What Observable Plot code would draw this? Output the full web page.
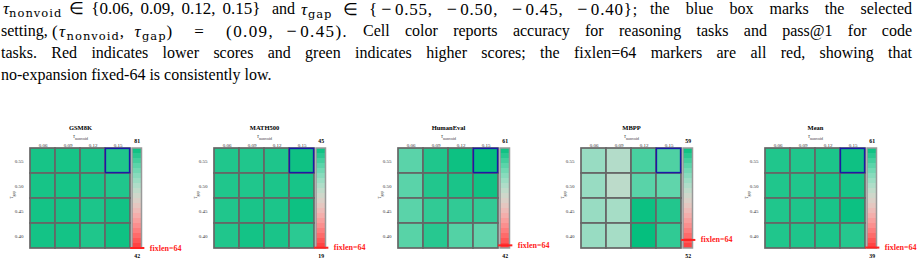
<!DOCTYPE html>
<html>
<head>
<meta charset="utf-8">
<script src="https://cdn.jsdelivr.net/npm/d3@7"></script>
<script src="https://cdn.jsdelivr.net/npm/@observablehq/plot@0.6"></script>
<style>
  html, body { margin: 0; padding: 0; background: #fff; }
  #page { position: relative; width: 922px; height: 264px; overflow: hidden; }
  #cap { position: absolute; left: 0; top: -2px; width: 922px;
         font-family: "Liberation Serif", "Times New Roman", serif; font-size: 16px; line-height: 22px; color: #000; }
  #cap .row { position: relative; height: 22px; }
  #cap .seg { position: absolute; top: 0; white-space: nowrap; }
  #cap .jus { text-align: justify; text-align-last: justify; }
  #cap .flex { display: flex; justify-content: space-between; align-items: baseline; }
  #cap .l { position: absolute; left: 1px; width: 911px; text-align: justify; text-align-last: justify; white-space: nowrap; }
  #cap .last { text-align: left; text-align-last: left; }
  #cap .m { font-size: 17px; white-space: nowrap; }
  #cap .ls { letter-spacing: 0.8px; }
  #cap .ls2 { letter-spacing: 1.4px; }
  #cap sub { font-family: "DejaVu Serif", serif; font-size: 11.5px; letter-spacing: 1px; line-height: 0; vertical-align: -3px; }
  #cap .r { padding: 0 7px; }
  #cap .t { display: inline-block; width: 7px; }
  #cap .t9 { display: inline-block; width: 9px; }
  #cap .n { display: inline-block; width: 17px; text-align: center; font-size: 18px; letter-spacing: 0; }
  .panel { position: absolute; }
  .panel svg { overflow: visible; max-width: none !important; }
</style>
</head>
<body>
<div id="page">
  <div id="cap">
    <div class="row">
      <span class="seg m" style="left:3px"><i>τ</i><sub>nonvoid</sub><span class="r">∈</span>{0.06,<span class="t"></span>0.09,<span class="t"></span>0.12,<span class="t"></span>0.15}</span>
      <span class="seg" style="left:272px">and</span>
      <span class="seg m ls flex" style="left:301px;width:337px"><span><i>τ</i><sub>gap</sub></span><span>∈</span><span>{<span class="n">−</span>0.55,</span><span><span class="n">−</span>0.50,</span><span><span class="n">−</span>0.45,</span><span><span class="n">−</span>0.40}<span style="font-size:16px">;</span></span></span>
      <span class="seg jus" style="left:650px;width:262px">the blue box marks the selected</span>
    </div>
    <div class="row">
      <span class="seg" style="left:1px">setting,</span>
      <span class="seg m ls2 flex" style="left:52px;width:296px"><span>(<i>τ</i><sub>nonvoid</sub>,<span class="t9"></span><i>τ</i><sub>gap</sub>)</span><span>=</span><span>(0.09,<span class="t9"></span><span class="n">−</span>0.45)<span style="font-size:16px">.</span></span></span>
      <span class="seg jus" style="left:363px;width:549px">Cell color reports accuracy for reasoning tasks and pass@1 for code</span>
    </div>
    <div class="row"><div class="l">tasks. Red indicates lower scores and green indicates higher scores; the fixlen=64 markers are all red, showing that</div></div>
    <div class="row"><div class="l last">no-expansion fixed-64 is consistently low.</div></div>
  </div>
</div>
<script>
// ---------------- data ----------------
const tasks = ["GSM8K", "MATH500", "HumanEval", "MBPP", "Mean"];
const tauNonvoid = ["0.06", "0.09", "0.12", "0.15"];
const tauGap = ["0.55", "0.50", "0.45", "0.40"];          // top to bottom
const selectedCell = {col: "0.15", row: "0.55"};
const fixlenLabel = "fixlen=64";

// rows top->bottom (tauGap order), columns tauNonvoid order
const gsm8k = [
  [79.6, 79.6, 79.4, 79.0],
  [79.6, 79.6, 79.4, 78.9],
  [79.8, 79.7, 79.2, 80.0],
  [79.8, 79.8, 79.0, 80.2]
];
const math500 = [
  [43.6, 43.6, 43.7, 44.5],
  [43.6, 43.6, 43.8, 44.0],
  [43.6, 43.9, 43.8, 44.6],
  [43.6, 44.2, 43.9, 43.0]
];
const humaneval = [
  [57.7, 60.0, 60.7, 61.0],
  [57.7, 59.9, 60.2, 60.6],
  [57.7, 59.3, 59.3, 59.3],
  [57.8, 59.7, 58.0, 57.5]
];
const mbpp = [
  [56.8, 56.3, 58.05, 57.95],
  [56.8, 56.1, 57.8, 57.7],
  [56.8, 56.55, 58.9, 58.6],
  [56.8, 56.55, 59.0, 58.4]
];
const meanScores = [
  [59.8, 59.8, 60.0, 60.6],
  [59.8, 59.8, 60.1, 60.2],
  [59.8, 59.9, 60.1, 60.7],
  [59.8, 59.9, 60.0, 59.6]
];
const colorMin = [42, 19, 42, 52, 39];
const colorMax = [81, 45, 61, 59, 61];
const fixlenScore = [42.2, 19.2, 42.6, 52.6, 39.2];

// ---------------- drawing ----------------
const matrices = [gsm8k, math500, humaneval, mbpp, meanScores];
const RED = "#ff3a3a", WHITE = "#ffffff", GREEN = "#05bf7e";
const MARK_RED = "#f22";
const interp = d3.interpolateRgbBasis([RED, WHITE, GREEN]);
const serif = "'Liberation Serif', 'Times New Roman', serif";
const page = document.getElementById("page");

function subscripts(svg) {
  d3.select(svg).selectAll("text").each(function () {
    const t = this.textContent;
    if (t.includes("_")) {
      const [a, b] = t.split("_");
      const el = d3.select(this);
      el.text(null);
      el.append("tspan").text(a).attr("font-style", "italic");
      el.append("tspan").text(b).attr("font-size", "0.72em").attr("dy", "0.35em");
    }
  });
}

const panelStep = 183.75;

tasks.forEach((task, i) => {
  const M = matrices[i];
  const cells = [];
  tauGap.forEach((row, r) => tauNonvoid.forEach((col, c) => cells.push({row, col, value: M[r][c]})));
  const color = {type: "linear", domain: [colorMin[i], colorMax[i]], interpolate: () => interp};

  const heat = Plot.plot({
    width: 140, height: 154,
    marginLeft: 30, marginRight: 10, marginTop: 38, marginBottom: 16,
    style: {fontFamily: serif, fontSize: "5px", color: "#333", background: "transparent", overflow: "visible"},
    x: {domain: tauNonvoid, padding: 0, axis: "top", tickSize: 0, tickPadding: 2, label: null},
    y: {domain: tauGap, padding: 0, axis: "left", tickSize: 0, tickPadding: 7, label: null},
    color,
    marks: [
      Plot.cell(cells, {x: "col", y: "row", fill: "value", stroke: "#666", strokeWidth: 1.7, inset: 0}),
      Plot.cell([selectedCell], {x: "col", y: "row", fill: "none", stroke: "#1a1aa6", strokeWidth: 1.5, inset: 0.4}),
      Plot.text([task], {frameAnchor: "top", dy: -23, fontWeight: "bold", fontSize: 6.5, fill: "#000"}),
      Plot.text(["τ_nonvoid"], {frameAnchor: "top", dy: -14, fontSize: 5.5, fill: "#333"}),
      Plot.text(["τ_gap"], {frameAnchor: "left", dx: -19, rotate: -90, fontSize: 5.5, fill: "#333"})
    ]
  });
  subscripts(heat);
  const hd = document.createElement("div");
  hd.className = "panel";
  hd.style.left = (i * panelStep) + "px";
  hd.style.top = "110px";
  hd.style.width = "140px";
  hd.appendChild(heat);
  page.appendChild(hd);

  // colour bar
  const n = 20, lo = colorMin[i], hi = colorMax[i];
  const bands = d3.range(n).map(k => ({
    y1: lo + (hi - lo) * k / n,
    y2: lo + (hi - lo) * (k + 1) / n,
    v: lo + (hi - lo) * (k + 0.5) / n
  }));
  const cb = Plot.plot({
    width: 70, height: 154,
    margin: 0,
    style: {fontFamily: serif, background: "transparent", overflow: "visible"},
    x: {domain: [0, 1], range: [7, 16.5], axis: null},
    y: {domain: [lo, hi], range: [138, 38], axis: null},
    color,
    marks: [
      Plot.rect(bands, {x1: () => 0, x2: () => 1, y1: "y1", y2: "y2", fill: "v"}),
      Plot.rect([0], {x1: () => 0, x2: () => 1, y1: () => lo, y2: () => hi, fill: "none", stroke: "#999", strokeWidth: 1.5}),
      Plot.ruleY([fixlenScore[i]], {x1: () => -0.2, x2: () => 1.3, stroke: MARK_RED, strokeWidth: 2}),
      Plot.text([fixlenScore[i]], {x: () => 1.3, y: d => d, text: () => fixlenLabel, textAnchor: "start", dx: 5, fill: MARK_RED, fontWeight: "bold", fontSize: 8}),
      Plot.text([hi], {x: () => 0.5, y: d => d, text: d => String(d), dy: -7, fontWeight: "bold", fontSize: 5.8, fill: "#000"}),
      Plot.text([lo], {x: () => 0.5, y: d => d, text: d => String(d), dy: 8, fontWeight: "bold", fontSize: 5.8, fill: "#000"})
    ]
  });
  const cd = document.createElement("div");
  cd.className = "panel";
  cd.style.left = (i * panelStep + 125) + "px";
  cd.style.top = "110px";
  cd.style.width = "70px";
  cd.appendChild(cb);
  page.appendChild(cd);
});
</script>
</body>
</html>
